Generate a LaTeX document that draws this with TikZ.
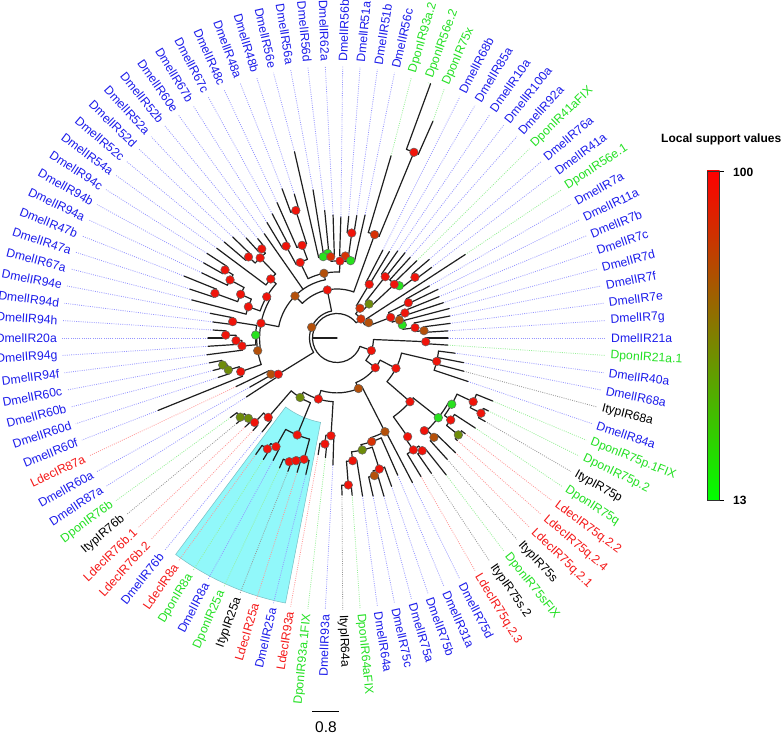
\documentclass[tikz,border=0pt]{standalone}
\usepackage{fontspec}
\setmainfont{Liberation Sans}
\usetikzlibrary{calc}
\definecolor{txb}{RGB}{28,28,235}
\definecolor{txg}{RGB}{35,225,35}
\definecolor{txr}{RGB}{245,25,25}
\definecolor{txk}{RGB}{0,0,0}
\definecolor{leadb}{RGB}{150,150,255}
\definecolor{leadg}{RGB}{150,240,150}
\definecolor{leadr}{RGB}{255,150,150}
\definecolor{leadk}{RGB}{150,150,150}
\definecolor{dR}{RGB}{240,20,10}
\definecolor{dRB}{RGB}{215,50,5}
\definecolor{dB}{RGB}{180,80,10}
\definecolor{dO}{RGB}{110,140,10}
\definecolor{dG}{RGB}{40,225,30}
\definecolor{hlc}{RGB}{145,248,250}
\definecolor{hld}{RGB}{120,190,195}
\pgfdeclarelayer{bg}
\pgfdeclarelayer{lead}
\pgfdeclarelayer{brl}
\pgfsetlayers{bg,lead,brl,main}
\tikzset{
  branch/.style={line width=1.2pt, draw=black!88, line cap=round},
  lab/.style={inner sep=0pt, font=\fontsize{12.2pt}{14pt}\selectfont},
  ldb/.style={draw=leadb, line width=0.8pt, dash pattern=on 0.9pt off 1.3pt},
  ldg/.style={draw=leadg, line width=0.8pt, dash pattern=on 0.9pt off 1.3pt},
  ldr/.style={draw=leadr, line width=0.8pt, dash pattern=on 0.9pt off 1.3pt},
  ldk/.style={draw=leadk, line width=0.8pt, dash pattern=on 0.9pt off 1.3pt},
  dot/.style={circle, inner sep=0pt, minimum size=8.6pt, draw=black!60, line width=0.5pt},
  legtext/.style={inner sep=0pt, font=\bfseries\fontsize{12pt}{14pt}\selectfont},
}
\newcommand\angOf[1]{\csname pa@#1\endcsname}
\newcommand\radOf[1]{\csname pr@#1\endcsname}
\newcommand\myleaf[4]{%
  \pgfmathtruncatemacro\kk{#1>29 ? #1-30 : #1+68}%
  \pgfmathsetmacro\ph{-\kk*3.67347}%
  \expandafter\xdef\csname pa@L#1\endcsname{\ph}%
  \expandafter\xdef\csname pr@L#1\endcsname{#2}%
  \begin{pgfonlayer}{lead}%
    \draw[ld#3] (\ph:#2pt) -- ($(-3pt,0pt)+(\ph:272pt)$);%
  \end{pgfonlayer}%
  \pgfmathtruncatemacro\isr{cos(\ph)>0}%
  \ifnum\isr=1
    \node[lab,text=tx#3,rotate=\ph,anchor=west] (n#1) at ($(-3pt,0pt)+(\ph:277pt)$) {#4};%
  \else
    \pgfmathsetmacro\rt{\ph+180}%
    \node[lab,text=tx#3,rotate=\rt,anchor=east] (n#1) at ($(-3pt,0pt)+(\ph:277pt)$) {#4};%
  \fi
}
\newcommand\mynode[5]{%
  \gdef\amx{-1000}\gdef\amn{1000}%
  \foreach \cc in {#5}{%
    \edef\tA{\angOf{\cc}}%
    \pgfmathparse{max(\amx,\tA)}\xdef\amx{\pgfmathresult}%
    \pgfmathparse{min(\amn,\tA)}\xdef\amn{\pgfmathresult}%
  }%
  \if\relax\detokenize{#3}\relax
    \pgfmathsetmacro\nAng{(\amx+\amn)/2}%
  \else
    \pgfmathsetmacro\nAng{(#3>2) ? (#3-360) : (#3)}%
  \fi
  \pgfmathsetmacro\arcA{max(\amx,\nAng)}%
  \pgfmathsetmacro\arcB{min(\amn,\nAng)}%
  \begin{pgfonlayer}{brl}%
    \draw[branch] (\arcA:#2pt) arc[start angle=\arcA, end angle=\arcB, radius=#2pt];%
    \foreach \cc in {#5}{\edef\tA{\angOf{\cc}}\edef\tR{\radOf{\cc}}\draw[branch] (\tA:#2pt) -- (\tA:\tR pt);}%
  \end{pgfonlayer}%
  \expandafter\xdef\csname pa@#1\endcsname{\nAng}%
  \expandafter\xdef\csname pr@#1\endcsname{#2}%
  \node[dot,fill=#4] (#1) at (\nAng:#2pt) {};%
}
\begin{document}
\begin{tikzpicture}
\useasboundingbox (-337pt,-397pt) rectangle (445pt,338pt);
\begin{pgfonlayer}{bg}
\fill[white] (-337pt,-397pt) rectangle (445pt,338pt);
\filldraw[fill=hlc, draw=hld, line width=0.5pt] (-101:86pt) arc[start angle=-101,end angle=-126.7,radius=86pt] -- (-126.7:270pt) arc[start angle=-126.7,end angle=-101,radius=270pt] -- cycle;
\end{pgfonlayer}
% leaves
\myleaf{1}{150}{b}{DmelIR48b}
\myleaf{2}{191}{b}{DmelIR56e}
\myleaf{3}{150}{b}{DmelIR56a}
\myleaf{4}{128}{b}{DmelIR56d}
\myleaf{5}{123}{b}{DmelIR62a}
\myleaf{6}{121}{b}{DmelIR56b}
\myleaf{7}{122}{b}{DmelIR51a}
\myleaf{8}{124}{b}{DmelIR51b}
\myleaf{9}{126}{b}{DmelIR56c}
\myleaf{10}{190}{g}{DponIR93a.2}
\myleaf{11}{271}{g}{DponIR56e.2}
\myleaf{12}{237}{g}{DponIR75x}
\myleaf{13}{99}{b}{DmelIR68b}
\myleaf{14}{101}{b}{DmelIR85a}
\myleaf{15}{106}{b}{DmelIR10a}
\myleaf{16}{109}{b}{DmelIR100a}
\myleaf{17}{109}{b}{DmelIR92a}
\myleaf{18}{111}{g}{DponIR41aFIX}
\myleaf{19}{121}{b}{DmelIR76a}
\myleaf{20}{118}{b}{DmelIR41a}
\myleaf{21}{153}{g}{DponIR56e.1}
\myleaf{22}{106}{b}{DmelIR7a}
\myleaf{23}{112}{b}{DmelIR11a}
\myleaf{24}{110}{b}{DmelIR7b}
\myleaf{25}{112}{b}{DmelIR7c}
\myleaf{26}{116}{b}{DmelIR7d}
\myleaf{27}{115}{b}{DmelIR7f}
\myleaf{28}{114}{b}{DmelIR7e}
\myleaf{29}{111}{b}{DmelIR7g}
\myleaf{30}{111}{b}{DmelIR21a}
\myleaf{31}{111}{g}{DponIR21a.1}
\myleaf{32}{119}{b}{DmelIR40a}
\myleaf{33}{129}{b}{DmelIR68a}
\myleaf{34}{131}{k}{ItypIR68a}
\myleaf{35}{138}{b}{DmelIR84a}
\myleaf{36}{168}{g}{DponIR75p.1FIX}
\myleaf{37}{168}{g}{DponIR75p.2}
\myleaf{38}{170}{k}{ItypIR75p}
\myleaf{39}{165}{g}{DponIR75q}
\myleaf{40}{160}{r}{LdecIR75q.2.2}
\myleaf{41}{158}{r}{LdecIR75q.2.4}
\myleaf{42}{165}{r}{LdecIR75q.2.1}
\myleaf{43}{164}{k}{ItypIR75s}
\myleaf{44}{175}{g}{DponIR75sFIX}
\myleaf{45}{165}{k}{ItypIR75s.2}
\myleaf{46}{162}{r}{LdecIR75q.2.3}
\myleaf{47}{163}{b}{DmelIR75d}
\myleaf{48}{150}{b}{DmelIR31a}
\myleaf{49}{158}{b}{DmelIR75b}
\myleaf{50}{165}{b}{DmelIR75a}
\myleaf{51}{162}{b}{DmelIR75c}
\myleaf{52}{160}{b}{DmelIR64a}
\myleaf{53}{158}{g}{DponIR64aFIX}
\myleaf{54}{157}{k}{ItypIR64a}
\myleaf{55}{127}{b}{DmelIR93a}
\myleaf{56}{120}{g}{DponIR93a.1FIX}
\myleaf{57}{118}{r}{LdecIR93a}
\myleaf{58}{140}{b}{DmelIR25a}
\myleaf{59}{140}{r}{LdecIR25a}
\myleaf{60}{142}{k}{ItypIR25a}
\myleaf{61}{142}{g}{DponIR25a}
\myleaf{62}{138}{b}{DmelIR8a}
\myleaf{63}{142}{g}{DponIR8a}
\myleaf{64}{142}{r}{LdecIR8a}
\myleaf{65}{120}{b}{DmelIR76b}
\myleaf{66}{125}{r}{LdecIR76b.2}
\myleaf{67}{128}{r}{LdecIR76b.1}
\myleaf{68}{132}{k}{ItypIR76b}
\myleaf{69}{133}{g}{DponIR76b}
\myleaf{70}{108}{b}{DmelIR87a}
\myleaf{71}{100}{b}{DmelIR60a}
\myleaf{72}{112}{r}{LdecIR87a}
\myleaf{73}{193}{b}{DmelIR60f}
\myleaf{74}{125}{b}{DmelIR60d}
\myleaf{75}{128}{b}{DmelIR60b}
\myleaf{76}{130}{b}{DmelIR60c}
\myleaf{77}{131}{b}{DmelIR94f}
\myleaf{78}{129}{b}{DmelIR94g}
\myleaf{79}{129}{b}{DmelIR20a}
\myleaf{80}{124}{b}{DmelIR94h}
\myleaf{81}{125}{b}{DmelIR94d}
\myleaf{82}{129}{b}{DmelIR94e}
\myleaf{83}{150}{b}{DmelIR67a}
\myleaf{84}{155}{b}{DmelIR47a}
\myleaf{85}{165}{b}{DmelIR47b}
\myleaf{86}{150}{b}{DmelIR94a}
\myleaf{87}{153}{b}{DmelIR94b}
\myleaf{88}{155}{b}{DmelIR94c}
\myleaf{89}{150}{b}{DmelIR54a}
\myleaf{90}{148}{b}{DmelIR52c}
\myleaf{91}{145}{b}{DmelIR52d}
\myleaf{92}{135}{b}{DmelIR52a}
\myleaf{93}{127}{b}{DmelIR52b}
\myleaf{94}{127}{b}{DmelIR60e}
\myleaf{95}{135}{b}{DmelIR67b}
\myleaf{96}{140}{b}{DmelIR67c}
\myleaf{97}{148}{b}{DmelIR48c}
\myleaf{98}{159}{b}{DmelIR48a}
% upper right clade
\mynode{qax}{62.6}{59}{dR}{L13,L14}
\mynode{qay}{78}{51.8}{dR}{L15,L16}
\mynode{qbb}{98.8}{37.9}{dR}{L19,L20}
\mynode{qba}{81.3}{40}{dG}{L18,qbb}
\mynode{qaz}{78.5}{43.1}{dR}{L17,qba}
\mynode{qbc}{46.7}{46.7}{dO}{qay,qaz}
\mynode{qbd}{37.6}{52.3}{dRB}{qax,qbc}
\mynode{qbg}{79.6}{26.3}{dR}{L22,L23}
\mynode{qbj}{72.4}{}{dR}{L24,L25}
\mynode{qbm}{87.3}{4.8}{dB}{L28,L29}
\mynode{qbl}{78.7}{7.5}{dR}{L27,qbm}
\mynode{qbk}{66.6}{11.3}{dG}{L26,qbl}
\mynode{qbi}{64.9}{16.1}{dB}{qbj,qbk}
\mynode{qbh}{57.5}{21}{dR}{qbg,qbi}
\mynode{qbf}{35.2}{25.8}{dB}{L21,qbh}
\mynode{qbe}{30.6}{38.4}{dRB}{qbd,qbf}
% lower right clade
\mynode{qbn}{88.8}{-2.4}{dR}{L30,L31}
\mynode{qbr}{102.4}{-13.2}{dR}{L32,L33,L34,L35}
\mynode{qNa}{162.5}{-27.6}{dR}{L37,L38}
\mynode{qNb}{150.4}{-25.1}{dR}{L36,qNa}
\mynode{qNc}{155.3}{-38.6}{dO}{L40,L41}
\mynode{qNd}{140.2}{-35.8}{dR}{L39,qNc}
\mynode{qNe}{132.5}{-30}{dG}{qNb,qNd}
\mynode{qNg}{138.8}{-45.7}{dB}{L42,L43}
\mynode{qNm}{127.3}{-46.7}{dR}{qNg}
\mynode{qNf}{128.9}{-38.2}{dG}{qNe,qNm}
\mynode{qNk}{141.3}{-52.9}{dR}{L44,L45}
\mynode{qNl}{135.5}{-55.7}{dR}{qNk,L46}
\mynode{qNh}{121.4}{-54.4}{dR}{qNl}
\mynode{qbt}{96.9}{-41.1}{dR}{qNf,qNh}
\mynode{qbq}{66.3}{-27.2}{dR}{qbr,qbt}
\mynode{qTa}{147.4}{-85.6}{dR}{L53,L54}
\mynode{qTb}{123.7}{-82.7}{dR}{L52,qTa}
\mynode{qTc}{142.6}{-74.8}{dB}{L50,L51}
\mynode{qTd}{137.7}{-72.1}{dR}{L49,qTc}
\mynode{qTe}{114.8}{-77.3}{dO}{qTd,qTb}
\mynode{qTf}{109.3}{-71.5}{dRB}{L48,qTe}
\mynode{qTg}{105.3}{-62.9}{dB}{L47,qTf}
\mynode{qUa}{106.7}{-96.5}{dR}{L56,L57}
\mynode{qaw}{97.9}{-93.5}{dR}{L55,qUa}
\mynode{qca}{131}{237.9}{dR}{L63,L64}
\mynode{qcb}{124.6}{240.7}{dR}{L62,qca}
\mynode{qcc}{132.6}{248.9}{dR}{L60,L61}
\mynode{qcd}{129.4}{251.5}{dR}{L59,qcc}
\mynode{qce}{125.7}{254.8}{dR}{L58,qcd}
\mynode{qav}{104.8}{247.7}{dR}{qce,qcb}
\mynode{qar}{125}{219.3}{dO}{L68,L69}
\mynode{qas}{119.6}{222.2}{dO}{L67,qar}
\mynode{qat}{118}{225.7}{dR}{L66,qas}
\mynode{qau}{105}{229.1}{dR}{L65,qat}
\mynode{qap}{70}{238.2}{dO}{qau,qav}
\mynode{qaq}{63.8}{253}{dR}{qap,qaw}
\mynode{qbs}{54.9}{-67}{dB}{qaq,qTg}
\mynode{qbp}{48.5}{-37.8}{dR}{qbq,qbs}
\mynode{qbo}{36.6}{-20.1}{dR}{qbn,qbp}
% left and top clade
\mynode{qa}{201}{67.5}{dR}{L11,L12}
\mynode{qd}{110}{70}{dRB}{L10,qa}
\mynode{qc}{106}{82}{dR}{L7,L8}
\mynode{qo}{82.4}{84.2}{dRB}{L6,qc}
\mynode{qp}{78.5}{80}{dG}{qo,L9}
\mynode{ql}{85}{96.3}{dG}{L3,L4}
\mynode{qk}{82.5}{99.6}{dG}{L2,ql}
\mynode{qm}{81.5}{94.4}{dRB}{qk,L5}
\mynode{qn}{77}{87.8}{dR}{qm,qp}
\mynode{qb}{134}{107.9}{dR}{L98,L1}
\mynode{qg}{99}{110.6}{dR}{L97,qb}
\mynode{qf}{105}{119}{dR}{L95,L96}
\mynode{qj}{84}{116}{dR}{qf,qg}
\mynode{qv}{66}{101.4}{dB}{qj,qn}
\mynode{qh}{120}{137.5}{dR}{L90,L91}
\mynode{qe}{116.6}{130.2}{dR}{L92,L93}
\mynode{qi}{111}{133.8}{dR}{qh,qe}
\mynode{qu}{88.7}{138.3}{dR}{L89,qi}
\mynode{qs}{131}{148.7}{dR}{L87,L88}
\mynode{qt}{121.7}{151.5}{dR}{L86,qs}
\mynode{qw}{130}{159.9}{dR}{L84,L85}
\mynode{qx}{105.8}{155.6}{dR}{qt,qw}
\mynode{qy}{94}{160.6}{dR}{qx,L83}
\mynode{qz}{81.5}{149.6}{dR}{qu,qy}
\mynode{qac}{105.6}{171.1}{dR}{L81,L82}
\mynode{qae}{111.3}{178.5}{dR}{L79,L80}
\mynode{qaf}{101}{181.5}{dR}{qae,L78}
\mynode{qag}{95.3}{184.8}{dR}{qaf,L77}
\mynode{qah}{81.4}{177.9}{dG}{qac,qag}
\mynode{qaj}{117.4}{193.3}{dO}{L75,L76}
\mynode{qak}{113.3}{196.4}{dO}{qaj,L74}
\mynode{qal}{102}{199.3}{dR}{qak,L73}
\mynode{qai}{80.3}{189.1}{dB}{qah,qal}
\mynode{qad}{77.4}{169}{dR}{qz,qai}
\mynode{qaa}{59.4}{135}{dB}{qv,L94,qad}
\mynode{qab}{49}{101.4}{dR}{qaa,qd}
\mynode{qam}{75.3}{208.8}{dB}{L71,L72}
\mynode{qan}{69}{211.7}{dR}{qam,L70}
\mynode{qao}{27.5}{157}{dB}{qab,qan}
% root
\coordinate (root) at (0,0);
\coordinate (rootend) at (180:24.5pt);
\begin{pgfonlayer}{brl}
\draw[branch] (root) -- (rootend);
\edef\rA{\angOf{qbo}}\edef\rB{\angOf{qbe}}
\draw[branch] (\rA:24.5pt) arc[start angle=\rA, end angle=\rB, radius=24.5pt];
\foreach \cc in {qbo,qao,qbe}{\edef\tA{\angOf{\cc}}\edef\tR{\radOf{\cc}}\draw[branch] (\tA:24.5pt) -- (\tA:\tR pt);}
\end{pgfonlayer}
% legend
\node[legtext, anchor=west] (legtitle) at (324pt,198.5pt) {Local support values};
\shade[top color=red, bottom color=green] (370pt,-162pt) rectangle (382.5pt,167pt);
\draw[line width=0.7pt, draw=black!80] (370pt,-162pt) rectangle (382.5pt,167pt);
\draw[line width=0.7pt] (382.5pt,167pt) -- (387pt,167pt);
\draw[line width=0.7pt] (382.5pt,-162pt) -- (387pt,-162pt);
\node[legtext, anchor=west] (lmax) at (396pt,165.5pt) {100};
\node[legtext, anchor=west] (lmin) at (396pt,-162pt) {13};
% scale bar
\coordinate (sba) at (-24.7pt,-373.7pt);
\coordinate (sbb) at (2.3pt,-373.7pt);
\draw[line width=1pt] (sba) -- (sbb);
\node[inner sep=0pt, font=\fontsize{15.5pt}{17pt}\selectfont] (sbl) at (-11pt,-389pt) {0.8};
\end{tikzpicture}
\end{document}
